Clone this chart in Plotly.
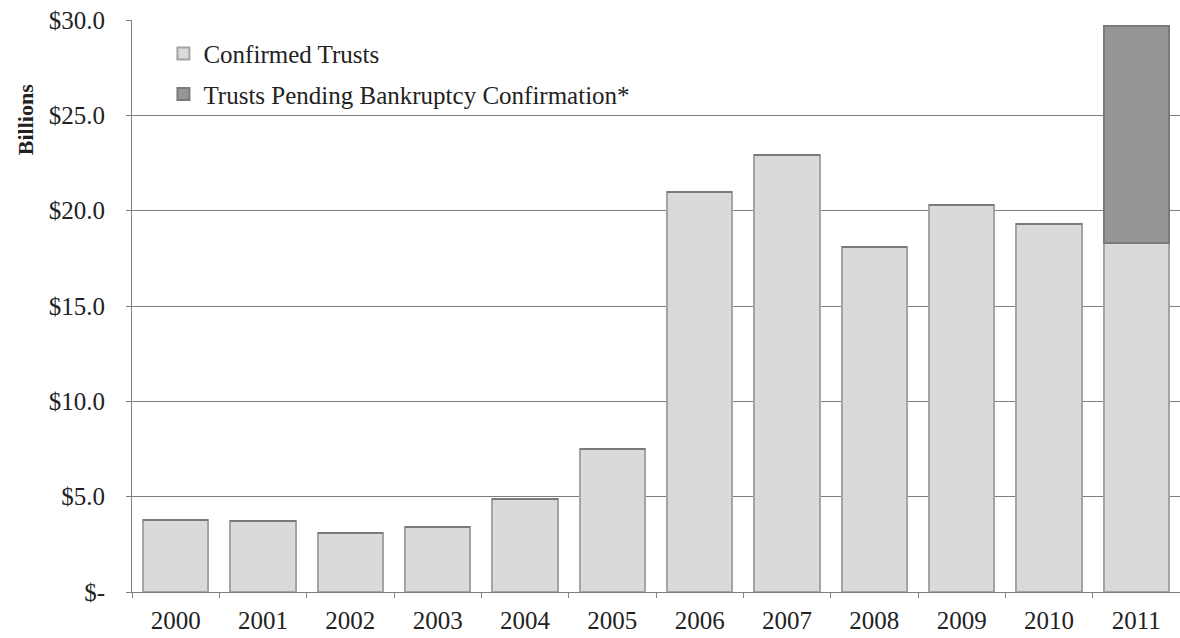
import plotly.graph_objects as go

years = ["2000", "2001", "2002", "2003", "2004", "2005", "2006", "2007", "2008", "2009", "2010", "2011"]
confirmed = [3.8, 3.7, 3.1, 3.4, 4.9, 7.5, 21.0, 22.9, 18.1, 20.3, 19.3, 18.3]
pending = [0, 0, 0, 0, 0, 0, 0, 0, 0, 0, 0, 11.4]
ytick_vals = [0, 5, 10, 15, 20, 25, 30]
ytick_text = ["$-", "$5.0", "$10.0", "$15.0", "$20.0", "$25.0", "$30.0"]

FONT = "Liberation Serif, Times New Roman, serif"

fig = go.Figure()
fig.add_trace(go.Bar(
    x=years, y=confirmed, name="Confirmed Trusts", legendgroup="a",
    marker=dict(color="#dadada", line=dict(color="#a4a4a4", width=2)),
))
fig.add_trace(go.Bar(
    x=years, y=pending, name="Trusts Pending Bankruptcy Confirmation*", legendgroup="b",
    marker=dict(color="#969696", line=dict(color="#7a7a7a", width=2)),
))

fig.update_layout(
    width=1180, height=638,
    margin=dict(l=132, r=0, t=20, b=46),
    barmode="stack", bargap=0.25,
    plot_bgcolor="white", paper_bgcolor="white",
    font=dict(family=FONT, size=25, color="#222222"),
    showlegend=True,
    legend=dict(
        x=0.03, y=0.981, xanchor="left", yanchor="top",
        traceorder="grouped", tracegroupgap=5,
        font=dict(family=FONT, size=25, color="#222222"),
        bgcolor="rgba(0,0,0,0)",
    ),
    xaxis=dict(
        type="category", showgrid=False, showline=True, linecolor="#808080", linewidth=1,
        ticks="outside", tickson="boundaries", ticklen=5, tickcolor="#808080",
        ticklabelstandoff=6,
        tickfont=dict(family=FONT, size=25, color="#222222"),
    ),
    yaxis=dict(
        range=[0, 30], tickvals=ytick_vals, ticktext=ytick_text,
        showgrid=True, gridcolor="#7f7f7f", gridwidth=1,
        showline=True, linecolor="#808080", linewidth=1,
        ticks="outside", ticklen=5, tickcolor="#808080",
        ticklabelstandoff=16, zeroline=False,
        tickfont=dict(family=FONT, size=25, color="#222222"),
    ),
    annotations=[dict(
        text="<b>Billions</b>", textangle=-90, xref="paper", yref="paper",
        x=-0.102, y=0.825, xanchor="center", yanchor="middle", showarrow=False,
        font=dict(family=FONT, size=22, color="#222222"),
    )],
)

fig.write_html("out.html")
